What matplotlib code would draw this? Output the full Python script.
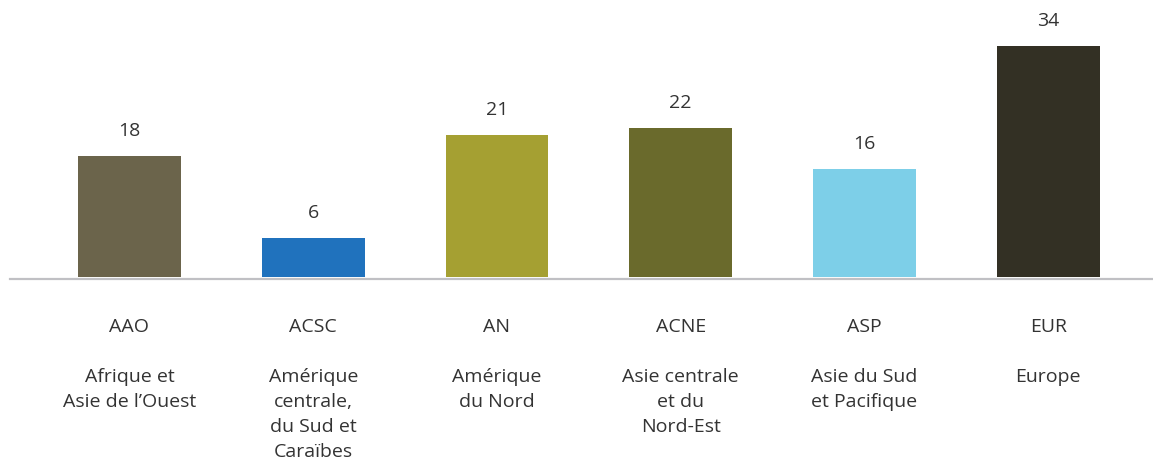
import matplotlib.pyplot as plt

plt.rcParams['font.family'] = ['Open Sans', 'DejaVu Sans']

# Data
codes = ['AAO', 'ACSC', 'AN', 'ACNE', 'ASP', 'EUR']
names = ['Afrique et\nAsie de l\u2019Ouest',
         'Am\u00e9rique\ncentrale,\ndu Sud et\nCara\u00efbes',
         'Am\u00e9rique\ndu Nord',
         'Asie centrale\net du\nNord-Est',
         'Asie du Sud\net Pacifique',
         'Europe']
values = [18, 6, 21, 22, 16, 34]
colors = ['#6b644b', '#2072bd', '#a5a032', '#6a6a2c', '#7dcfe8', '#333024']

W, H = 1153, 464
base = 279.5  # pixel row (from top) of the zero line

fig = plt.figure(figsize=(W / 100, H / 100), dpi=100)
ax = fig.add_axes([10 / W, (H - base) / H, (W - 10) / W, base / H])

x = list(range(len(values)))
ax.bar(x, values, width=0.56, color=colors, zorder=2)

# small white gap between bars and the base line, then the grey line
ax.axhline(0, color='white', linewidth=3.6, zorder=3)

for xi, v in zip(x, values):
    ax.annotate(str(v), xy=(xi, v), xytext=(0, 26), textcoords='offset pixels',
                ha='center', va='center', fontsize=14, color='#333333')

ax.set_xlim(-0.65, 5.57)
ax.set_ylim(0, base / 6.83)

for s in ['top', 'right', 'left']:
    ax.spines[s].set_visible(False)
ax.spines['bottom'].set_color('#c0c0c4')
ax.spines['bottom'].set_linewidth(1.6)
ax.spines['bottom'].set_position(('outward', 0.5))
ax.spines['bottom'].set_zorder(4)
ax.set_yticks([])
ax.set_xticks([])

# Category labels below the axis
for xi, c, n in zip(x, codes, names):
    ax.annotate(c, xy=(xi, 0), xytext=(0, -48), textcoords='offset pixels',
                ha='center', va='center', fontsize=14, color='#333333',
                annotation_clip=False)
    ax.annotate(n, xy=(xi, 0), xytext=(0, -89), textcoords='offset pixels',
                ha='center', va='top', fontsize=14, color='#333333',
                linespacing=1.49, annotation_clip=False)

fig.savefig('out.png', dpi=100)
